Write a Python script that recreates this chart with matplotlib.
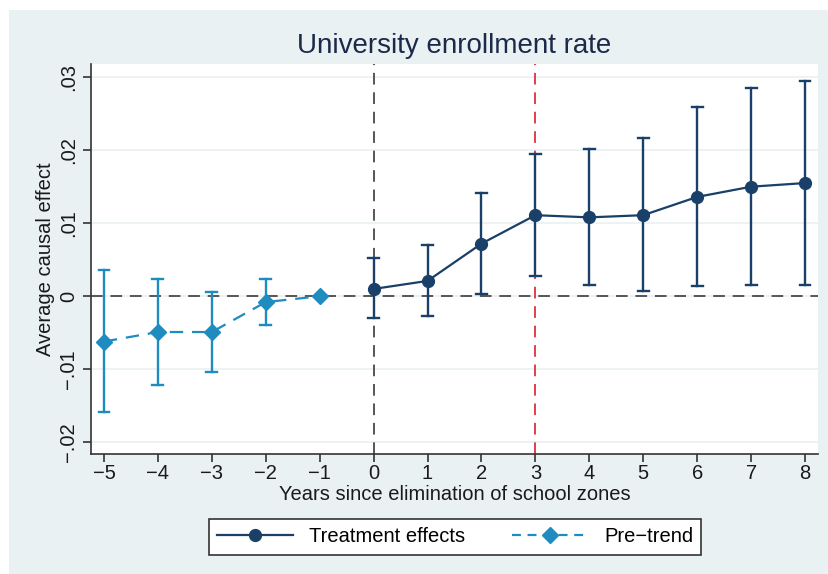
import matplotlib
matplotlib.use("Agg")
import matplotlib.pyplot as plt
from matplotlib.lines import Line2D
from matplotlib.patches import Rectangle

plt.rcParams['font.family'] = ['Liberation Sans', 'DejaVu Sans']

# pre-trend estimates
pre_x = [-5, -4, -3, -2, -1]
pre_y = [-0.0062, -0.0049, -0.0049, -0.0008, 0.0]
pre_lo = [-0.0159, -0.0121, -0.0104, -0.0039, None]
pre_hi = [0.0036, 0.0023, 0.0006, 0.0023, None]

# treatment effects
tr_x = [0, 1, 2, 3, 4, 5, 6, 7, 8]
tr_y = [0.0010, 0.0021, 0.0072, 0.0111, 0.0108, 0.0111, 0.0136, 0.0150, 0.0155]
tr_lo = [-0.0030, -0.0027, 0.0003, 0.0028, 0.0015, 0.0007, 0.0014, 0.0015, 0.0016]
tr_hi = [0.0052, 0.0070, 0.0141, 0.0195, 0.0202, 0.0216, 0.0259, 0.0285, 0.0295]

y_ticks = [-0.02, -0.01, 0, 0.01, 0.02, 0.03]
y_labels = ["\u2212.02", "\u2212.01", "0", ".01", ".02", ".03"]
x_ticks = list(range(-5, 9))

navy = "#1a3f68"
blue = "#1f8cc0"
bg = "#eaf1f3"
txt = "#1a1a1a"

fig = plt.figure(figsize=(8.29, 5.74), dpi=100)
fig.patch.set_facecolor("white")
fig.patches.append(Rectangle((9 / 829, 0), 1, 1 - 10 / 574, transform=fig.transFigure,
                             facecolor=bg, edgecolor="none", zorder=-10))

ax = fig.add_axes([91 / 829, 120 / 574, 727 / 829, 390 / 574])
ax.set_facecolor("white")
ax.set_xlim(-5.24, 8.24)
ax.set_ylim(-0.0216, 0.0318)

for t in y_ticks:
    ax.axhline(t, color=bg, lw=1.2, zorder=0)
ax.axhline(0, color="#555555", lw=1.4, ls=(0, (6, 4)), zorder=1)
ax.axvline(0, color="#555555", lw=1.4, ls=(0, (6, 4)), zorder=1)
ax.axvline(3, color="#e0404a", lw=1.4, ls=(0, (6, 4)), zorder=1)

# pre-trend
for x, lo, hi in zip(pre_x, pre_lo, pre_hi):
    if lo is None:
        continue
    ax.plot([x, x], [lo, hi], color=blue, lw=1.7, zorder=2)
    ax.plot([x - 0.1, x + 0.1], [lo, lo], color=blue, lw=1.7, zorder=2)
    ax.plot([x - 0.1, x + 0.1], [hi, hi], color=blue, lw=1.7, zorder=2)
ax.plot(pre_x, pre_y, color=blue, lw=1.6, ls=(0, (6, 4)), marker="D", ms=8,
        markeredgecolor=blue, zorder=3)

# treatment
for x, lo, hi in zip(tr_x, tr_lo, tr_hi):
    ax.plot([x, x], [lo, hi], color=navy, lw=1.7, zorder=2)
    ax.plot([x - 0.1, x + 0.1], [lo, lo], color=navy, lw=1.7, zorder=2)
    ax.plot([x - 0.1, x + 0.1], [hi, hi], color=navy, lw=1.7, zorder=2)
ax.plot(tr_x, tr_y, color=navy, lw=1.6, marker="o", ms=8.5, zorder=3)

for s in ["top", "right"]:
    ax.spines[s].set_visible(False)
for s in ["left", "bottom"]:
    ax.spines[s].set_color("#333333")
    ax.spines[s].set_linewidth(1.2)

ax.set_xticks(x_ticks)
ax.set_xticklabels([str(v).replace("-", "\u2212") for v in x_ticks])
ax.set_yticks(y_ticks)
ax.set_yticklabels(y_labels, rotation=90, va="center")
ax.tick_params(axis="both", length=6, width=1.2, color="#333333", labelsize=14.5,
               labelcolor=txt, pad=3)
ax.tick_params(axis="x", pad=1)

ax.set_xlabel("Years since elimination of school zones", fontsize=14.5, color=txt, labelpad=2)
ax.set_ylabel("Average causal effect", fontsize=14.5, color=txt, labelpad=3)
ax.set_title("University enrollment rate", fontsize=20, color="#1c2a4a", pad=8)

handles = [
    Line2D([], [], color=navy, lw=1.6, marker="o", ms=8.5),
    Line2D([], [], color=blue, lw=1.6, ls=(0, (4, 3)), marker="D", ms=8),
]
leg = fig.legend(handles, ["Treatment effects", "Pre\u2212trend"], loc="center",
                 bbox_to_anchor=(455 / 829, 1 - 537 / 574), ncol=2, fontsize=14.5,
                 frameon=True, fancybox=False, handlelength=3.8, columnspacing=2.3,
                 borderpad=0.4, framealpha=1)
leg.get_frame().set_edgecolor("#333333")
leg.get_frame().set_facecolor("white")
leg.get_frame().set_linewidth(1.2)

fig.savefig("out.png", dpi=100, facecolor=fig.get_facecolor())
